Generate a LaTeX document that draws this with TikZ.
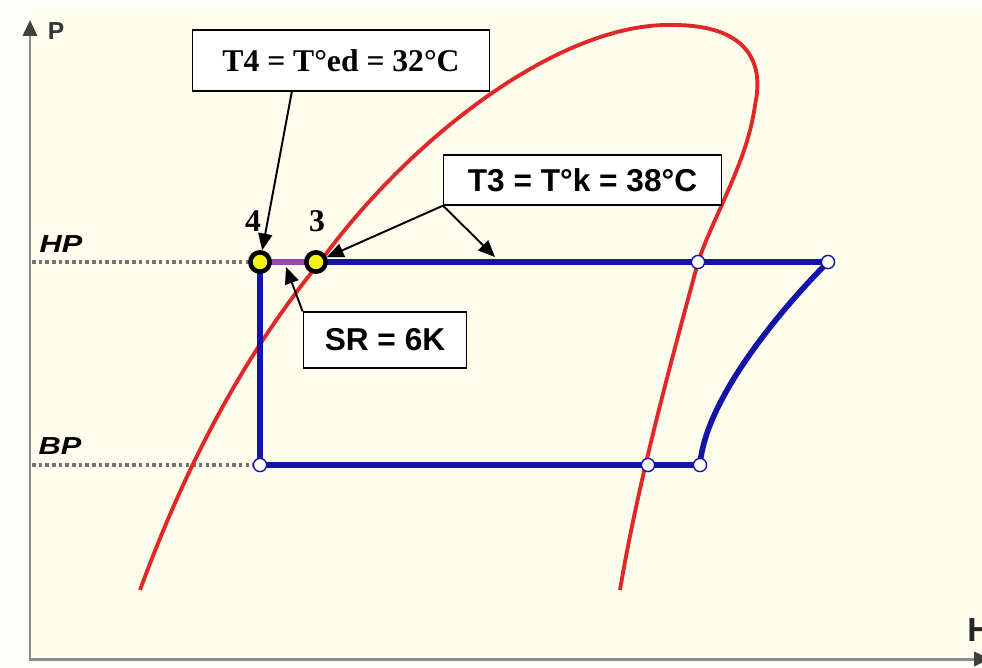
\documentclass[tikz,border=0pt]{standalone}
\usepackage{fontspec}
\setmainfont{Liberation Serif}
\setsansfont{Liberation Sans}
\usetikzlibrary{arrows.meta,calc}
\definecolor{cycblue}{HTML}{1414A8}
\definecolor{domered}{HTML}{E02828}
\definecolor{srpurple}{HTML}{9C46B4}
\definecolor{ptyellow}{HTML}{F2F214}
\definecolor{axgray}{HTML}{8C8C8C}
\definecolor{paper}{HTML}{FEFDEE}

\begin{document}
\begin{tikzpicture}[x=0.02cm,y=-0.02cm,
    cyc/.style={cycblue,line width=3.2pt},
    box/.style={draw,fill=white,line width=0.8pt,inner sep=0pt},
    arr/.style={-{Triangle[length=9.5pt,width=8pt]},line width=1.1pt},
    satpt/.style={circle,draw=black,fill=ptyellow,line width=2.6pt,minimum size=11pt,inner sep=0pt},
    openpt/.style={circle,draw=cycblue,fill=white,line width=0.8pt,minimum size=7.5pt,inner sep=0pt},
    lvl/.style={black!55,line width=1.8pt,dash pattern=on 2pt off 1.8pt},
    lvlab/.style={font=\sffamily\bfseries\itshape\fontsize{14}{14}\selectfont}]
    \useasboundingbox (0,0) rectangle (982,667);
    \fill[white!60!paper] (0,0) rectangle (982,667);
    \fill[paper] (30,10) rectangle (982,658);

    \draw[axgray,line width=1.7pt,{Triangle[length=9pt,width=8pt,color=black!75]}-{Triangle[length=9pt,width=8pt,color=black!75]}] (30,20) -- (30,659) -- (990,659);
    \node[font=\sffamily\bfseries\fontsize{14}{14}\selectfont,text=black!80] (plab) at (56,31) {P};
    \node[font=\sffamily\bfseries\fontsize{19}{19}\selectfont,text=black!85,anchor=west,inner sep=0pt] (hlab) at (967,630) {H};

    \coordinate (c4) at (260,262);
    \coordinate (c3) at (316,262);
    \coordinate (cv) at (698,262);
    \coordinate (c2) at (828,262);
    \coordinate (c1) at (700,465);
    \coordinate (cl) at (648,465);
    \coordinate (c5) at (260,465);
    \coordinate (hpaxis) at (32,262);
    \coordinate (bpaxis) at (32,465);
    \coordinate (hpmark) at (495,257);
    \coordinate (srmark) at (286,267);

    \draw[lvl] (hpaxis) -- (c4);
    \draw[lvl] (bpaxis) -- (c5);
    \node[lvlab] (hplab) at (61,244) {\scalebox{1.25}[1]{HP}};
    \node[lvlab] (bplab) at (60,446) {\scalebox{1.25}[1]{BP}};

    \draw[domered,line width=2.2pt] (140,590) .. controls (195,440) and (258,338) .. (320,262)
        .. controls (410,138) and (560,22) .. (673,25)
        .. controls (745,25) and (765,60) .. (755,105)
        .. controls (748,160) and (714,215) .. (698,262)
        .. controls (680,330) and (640,470) .. (620,590);

    \draw[srpurple,line width=3.2pt] (c4) -- (c3);
    \draw[cyc] (c3) -- (c2) .. controls (780,310) and (705,400) .. (c1) -- (c5) -- (c4);

    \node[satpt] (p4) at (c4) {};
    \node[satpt] (p3) at (c3) {};
    \node[openpt] (pv) at (cv) {};
    \node[openpt] (p2) at (c2) {};
    \node[openpt] (p1) at (c1) {};
    \node[openpt] (pl) at (cl) {};
    \node[openpt] (p5) at (c5) {};
    \node[font=\bfseries\fontsize{18}{18}\selectfont] (lab4) at (253,221) {4};
    \node[font=\bfseries\fontsize{18}{18}\selectfont] (lab3) at (317,221) {3};

    \node[box,font=\bfseries\fontsize{18}{18}\selectfont,minimum width=169pt,minimum height=34.6pt] (t4box) at (341,60.5) {T4 = T°ed = 32°C};
    \node[box,font=\sffamily\bfseries\fontsize{18}{18}\selectfont,minimum width=158pt,minimum height=28.4pt] (t3box) at (582.5,180) {T3 = T°k = 38°C};
    \node[box,font=\sffamily\bfseries\fontsize{18}{18}\selectfont,minimum width=93pt,minimum height=31.8pt] (srbox) at (385,340) {SR = 6K};

    \draw[arr] ($(t4box.south west)+(100,0)$) -- (p4);
    \draw[arr] (t3box.south west) -- (p3);
    \draw[arr] (t3box.south west) -- (hpmark);
    \draw[arr] (srbox.north west) -- (srmark);
\end{tikzpicture}
\end{document}
